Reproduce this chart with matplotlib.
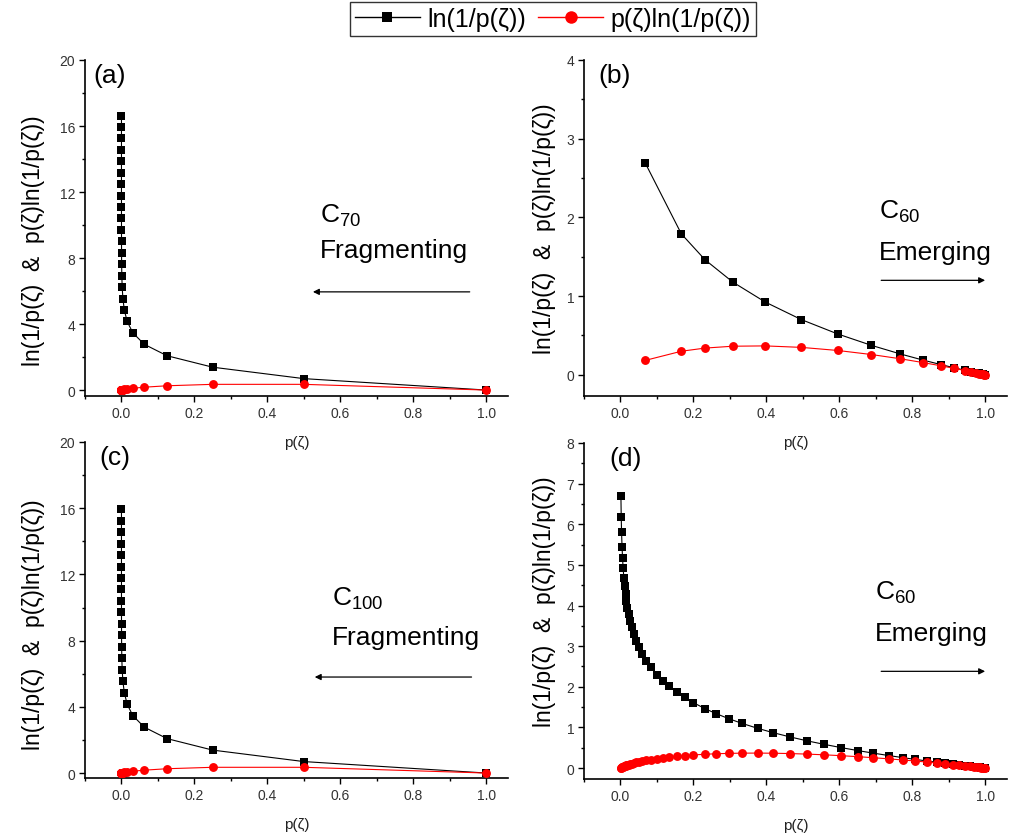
import matplotlib
matplotlib.use("Agg")
import matplotlib.pyplot as plt
from matplotlib.ticker import MultipleLocator
from matplotlib.lines import Line2D

plt.rcParams['font.family'] = ['Liberation Sans', 'DejaVu Sans']
plt.rcParams['mathtext.fontset'] = 'custom'
plt.rcParams['mathtext.rm'] = 'Liberation Sans'
plt.rcParams['mathtext.it'] = 'Liberation Sans'

# ---- (a) C70 fragmenting: p halves at each step ----
p_a = [1.0, 0.5, 0.25, 0.125, 0.0625, 0.03125, 0.015625, 0.0078125,
       0.0039063, 0.0019531, 0.00097656, 0.00048828, 0.00024414, 0.00012207,
       6.1035e-5, 3.0518e-5, 1.5259e-5, 7.6294e-6, 3.8147e-6, 1.9073e-6,
       9.5367e-7, 4.7684e-7, 2.3842e-7, 1.1921e-7, 5.9605e-8]
info_a = [0.0, 0.693, 1.386, 2.079, 2.773, 3.466, 4.159, 4.852, 5.545, 6.238,
          6.931, 7.625, 8.318, 9.011, 9.704, 10.397, 11.090, 11.783, 12.477,
          13.170, 13.863, 14.556, 15.249, 15.942, 16.636]
ent_a = [0.0, 0.3466, 0.3466, 0.2599, 0.1733, 0.1083, 0.0650, 0.0379, 0.0217,
         0.0122, 0.00677, 0.00372, 0.00203, 0.00110, 0.00059, 0.00032, 0.00017,
         0.00009, 0.00005, 0.00003, 0.00001, 0.0, 0.0, 0.0, 0.0]

# ---- (c) C100 fragmenting ----
p_c = p_a[:24]
info_c = info_a[:24]
ent_c = ent_a[:24]

# ---- (b) C60 emerging ----
p_b = [0.0676, 0.167, 0.232, 0.308, 0.397, 0.496, 0.596, 0.688, 0.767, 0.830,
       0.879, 0.916, 0.945, 0.962, 0.975, 0.984, 0.990, 0.994, 0.997, 1.0]
info_b = [2.694, 1.790, 1.461, 1.178, 0.924, 0.701, 0.518, 0.374, 0.265, 0.186,
          0.129, 0.0877, 0.0566, 0.0387, 0.0253, 0.0161, 0.0101, 0.0060, 0.0030, 0.0]
ent_b = [0.1821, 0.2989, 0.3390, 0.3627, 0.3667, 0.3479, 0.3085, 0.2572, 0.2035,
         0.1546, 0.1134, 0.0804, 0.0535, 0.0373, 0.0247, 0.0159, 0.0100, 0.0060,
         0.0030, 0.0]

# ---- (d) C60 emerging, finer sampling ----
p_d = [0.00124, 0.00205, 0.00303, 0.00430, 0.00568, 0.00730, 0.00928, 0.01145,
       0.01384, 0.01624, 0.01925, 0.02260, 0.02678, 0.03143, 0.03688, 0.04372,
       0.05130, 0.06020, 0.07136, 0.08374, 0.1013, 0.116, 0.134, 0.155, 0.176,
       0.200, 0.231, 0.263, 0.298, 0.334, 0.376, 0.418, 0.464, 0.512, 0.559,
       0.606, 0.652, 0.693, 0.736, 0.774, 0.808, 0.840, 0.867, 0.890, 0.911,
       0.929, 0.945, 0.958, 0.969, 0.978, 0.985, 0.990, 0.994, 0.997, 1.0]
info_d = [6.69, 6.19, 5.80, 5.45, 5.17, 4.92, 4.68, 4.47, 4.28, 4.12, 3.95, 3.79,
          3.62, 3.46, 3.30, 3.13, 2.97, 2.81, 2.64, 2.48, 2.29, 2.154, 2.010,
          1.864, 1.737, 1.609, 1.465, 1.336, 1.211, 1.097, 0.978, 0.872, 0.768,
          0.669, 0.582, 0.501, 0.428, 0.367, 0.307, 0.256, 0.213, 0.174, 0.143,
          0.1165, 0.0932, 0.0736, 0.0566, 0.0429, 0.0315, 0.0222, 0.0151,
          0.0101, 0.0060, 0.0030, 0.0]
ent_d = [0.0083, 0.0127, 0.0176, 0.0234, 0.0294, 0.0359, 0.0434, 0.0512, 0.0592,
         0.0669, 0.0760, 0.0857, 0.0969, 0.1087, 0.1217, 0.1368, 0.1524, 0.1692,
         0.1884, 0.2077, 0.2320, 0.2499, 0.2693, 0.2890, 0.3058, 0.3219, 0.3385,
         0.3513, 0.3608, 0.3663, 0.3678, 0.3646, 0.3563, 0.3427, 0.3251, 0.3036,
         0.2789, 0.2542, 0.2256, 0.1983, 0.1724, 0.1465, 0.1237, 0.1037, 0.0849,
         0.0684, 0.0535, 0.0411, 0.0305, 0.0218, 0.0149, 0.0100, 0.0060, 0.0030,
         0.0]

x_ticks = [0.0, 0.2, 0.4, 0.6, 0.8, 1.0]
x_tick_labels = ['0.0', '0.2', '0.4', '0.6', '0.8', '1.0']

YLABEL = 'ln(1/p(ζ)  &  p(ζ)ln(1/p(ζ))'
XLABEL = 'p(ζ)'

W, H = 1015, 837
fig = plt.figure(figsize=(W / 100, H / 100), dpi=100)


def px_axes(left, top, right, bottom):
    return fig.add_axes([left / W, 1 - bottom / H, (right - left) / W, (bottom - top) / H])


panels = [
    dict(box=(85, 61, 508, 397), p=p_a, info=info_a, ent=ent_a,
         ylim=(-0.36, 20), ymaj=4, ymin=2, tag='(a)', tagx=0.02, sp='C$_{70}$', word='Fragmenting',
         arrow=((0.955, 5.95), (0.525, 5.95)), tx=0.545, ty=(10.6, 8.5), ylab=(-0.095, 0.464)),
    dict(box=(584, 61, 1007, 397), p=p_b, info=info_b, ent=ent_b,
         ylim=(-0.27, 4), ymaj=1, ymin=0.5, tag='(b)', tagx=0.033, sp='C$_{60}$', word='Emerging',
         arrow=((0.715, 1.2), (1.0, 1.2)), tx=0.71, ty=(2.08, 1.56), ylab=(-0.066, 0.5)),
    dict(box=(85, 443, 508, 779), p=p_c, info=info_c, ent=ent_c,
         ylim=(-0.3, 20), ymaj=4, ymin=2, tag='(c)', tagx=0.033, sp='C$_{100}$', word='Fragmenting',
         arrow=((0.96, 5.8), (0.53, 5.8)), tx=0.578, ty=(10.6, 8.2), ylab=(-0.095, 0.46)),
    dict(box=(584, 444, 1007, 780), p=p_d, info=info_d, ent=ent_d,
         ylim=(-0.27, 8), ymaj=1, ymin=0.5, tag='(d)', tagx=0.06, sp='C$_{60}$', word='Emerging',
         arrow=((0.715, 2.38), (1.0, 2.38)), tx=0.698, ty=(4.33, 3.32), ylab=(-0.066, 0.53)),
]

for pn in panels:
    ax = px_axes(*pn['box'])
    ax.set_facecolor('none')
    ax.plot(pn['p'], pn['info'], color='black', lw=0.8, marker='s', ms=5.8,
            markeredgewidth=0, zorder=3)
    ax.plot(pn['p'], pn['ent'], color='red', lw=0.8, marker='o', ms=6.4,
            markeredgewidth=0, zorder=4)
    ax.set_xlim(-0.1, 1.06)
    ax.set_ylim(*pn['ylim'])
    ax.set_xticks(x_ticks)
    ax.set_xticklabels(x_tick_labels)
    ax.xaxis.set_minor_locator(MultipleLocator(0.1))
    ax.yaxis.set_major_locator(MultipleLocator(pn['ymaj']))
    ax.yaxis.set_minor_locator(MultipleLocator(pn['ymin']))
    for s in ('top', 'right'):
        ax.spines[s].set_visible(False)
    for s in ('left', 'bottom'):
        ax.spines[s].set_linewidth(1.2)
    ax.tick_params(which='major', direction='out', length=4, width=1.0,
                   labelsize=10, labelcolor='#333333', pad=3)
    ax.tick_params(which='minor', direction='out', length=2.5, width=1.0)
    ax.set_xlabel(XLABEL, fontsize=11, color='#222222', labelpad=11)
    ax.set_ylabel(YLABEL, fontsize=16.5)
    ax.yaxis.set_label_coords(*pn['ylab'])
    ax.text(pn['tagx'], 0.955, pn['tag'], transform=ax.transAxes,
            fontsize=19, va='center', ha='left')
    ax.text(pn['tx'], pn['ty'][0], pn['sp'], fontsize=19, va='center', ha='left')
    ax.text(pn['tx'], pn['ty'][1], pn['word'], fontsize=19, va='center', ha='left')
    (x0, y0), (x1, y1) = pn['arrow']
    ax.annotate('', xy=(x1, y1), xytext=(x0, y0),
                arrowprops=dict(arrowstyle='-|>', color='black', lw=0.9,
                                mutation_scale=9, shrinkA=0, shrinkB=0))

handles = [
    Line2D([], [], color='black', lw=1, marker='s', ms=7.5, markeredgewidth=0),
    Line2D([], [], color='red', lw=1, marker='o', ms=9, markeredgewidth=0),
]
leg = fig.legend(handles, ['ln(1/p(ζ))', 'p(ζ)ln(1/p(ζ))'], loc='upper center',
                 bbox_to_anchor=(553 / W, 1 - 3 / H), ncol=2, fontsize=18,
                 frameon=True, fancybox=False, edgecolor='black', handlelength=2.6,
                 handletextpad=0.3, columnspacing=0.5, borderpad=0.2,
                 borderaxespad=0)
leg.get_frame().set_linewidth(1.0)

fig.savefig('out.png', dpi=100)
